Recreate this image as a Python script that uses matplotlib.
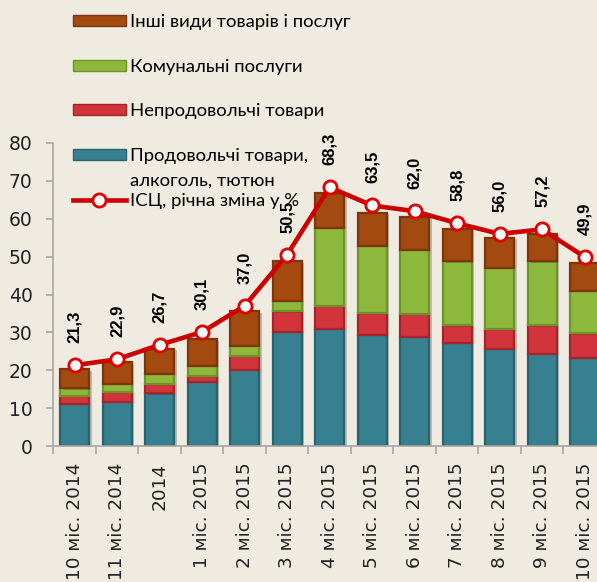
import numpy as np
import matplotlib
matplotlib.use("Agg")
import matplotlib.pyplot as plt
import matplotlib.patheffects as pe
from matplotlib.patches import Patch
from matplotlib.lines import Line2D

# Data
categories = ["10 міс. 2014", "11 міс. 2014", "2014", "1 міс. 2015", "2 міс. 2015",
              "3 міс. 2015", "4 міс. 2015", "5 міс. 2015", "6 міс. 2015", "7 міс. 2015",
              "8 міс. 2015", "9 міс. 2015", "10 міс. 2015"]
food = [11.1, 11.7, 13.9, 17.0, 20.1, 30.2, 30.9, 29.3, 28.8, 27.2, 25.6, 24.3, 23.3]
nonfood = [2.2, 2.6, 2.6, 1.6, 3.7, 5.4, 6.1, 5.8, 6.1, 4.7, 5.3, 7.6, 6.5]
utilities = [1.9, 2.2, 2.5, 2.6, 2.7, 2.8, 20.6, 17.7, 16.9, 16.9, 16.2, 16.9, 11.1]
other = [5.0, 5.6, 6.6, 7.0, 9.1, 10.4, 9.3, 8.7, 8.7, 8.5, 7.8, 7.2, 7.3]
cpi = [21.3, 22.9, 26.7, 30.1, 37.0, 50.5, 68.3, 63.5, 62.0, 58.8, 56.0, 57.2, 49.9]

series_labels = ["Продовольчі товари,", "Непродовольчі товари",
                 "Комунальні послуги", "Інші види товарів і послуг"]
line_label = "ІСЦ, річна зміна у %"

BG = "#EFEBE0"
colors = ["#37808F", "#D1343A", "#8DB83B", "#A24A10"]
edges = ["#2A6370", "#A52429", "#6F932B", "#7D360B"]
LINE_RED = "#CC0000"

fig = plt.figure(figsize=(5.97, 5.82), dpi=100, facecolor=BG)
W, H = 597, 582
ax = fig.add_axes([53.3 / W, (H - 446) / H, (606 - 53.3) / W, (446 - 143) / H])
ax.set_facecolor(BG)

x = np.arange(len(categories))
bottom = np.zeros(len(categories))
shadow = [pe.SimplePatchShadow(offset=(2, -1), alpha=0.25), pe.Normal()]
for vals, c, ec in zip([food, nonfood, utilities, other], colors, edges):
    ax.bar(x, vals, width=0.68, bottom=bottom, color=c, edgecolor=ec,
           linewidth=1.6, zorder=2, path_effects=shadow)
    bottom += np.array(vals)

ax.plot(x, cpi, color=LINE_RED, lw=3.3, marker="o", markersize=9.5,
        markerfacecolor="white", markeredgecolor="#E00000", markeredgewidth=2.0,
        zorder=4, solid_joinstyle="round")

for xi, v in zip(x, cpi):
    ax.annotate(f"{v:.1f}".replace(".", ","), (xi, v), xytext=(0, 22),
                textcoords="offset pixels", rotation=90, ha="center", va="bottom",
                fontsize=12, fontweight="bold", family="Liberation Sans",
                color="black", zorder=5)

ax.set_xlim(-0.5, len(categories) - 0.5)
ax.set_ylim(0, 80)
ax.set_yticks(range(0, 81, 10))
ax.set_xticks(x)
ax.set_xticklabels(categories, rotation=90, va="top", ha="center")
ax.set_xticks(np.arange(-0.5, len(categories), 1), minor=True)

for s in ["top", "right"]:
    ax.spines[s].set_visible(False)
for s in ["left", "bottom"]:
    ax.spines[s].set_color("#A6A6A6")
    ax.spines[s].set_linewidth(1.2)

ax.tick_params(axis="x", which="major", length=0, pad=12, labelsize=13.3,
               labelcolor="#222222")
ax.tick_params(axis="x", which="minor", length=6, color="#A6A6A6", width=1.2)
ax.tick_params(axis="y", length=5, color="#A6A6A6", width=1.2, pad=10,
               labelsize=13.5, labelcolor="#222222")

# Legend, one entry at a time to follow the original spacing
leg_font = dict(family="Lato", size=13.3)
handles = [
    (Patch(facecolor=colors[3], edgecolor=edges[3]), series_labels[3], 22),
    (Patch(facecolor=colors[2], edgecolor=edges[2]), series_labels[2], 67),
    (Patch(facecolor=colors[1], edgecolor=edges[1]), series_labels[1], 111),
    (Patch(facecolor=colors[0], edgecolor=edges[0]), series_labels[0], 156),
    (Line2D([], [], color=LINE_RED, lw=3.3, marker="o", markersize=9.5,
            markerfacecolor="white", markeredgecolor="#E00000",
            markeredgewidth=2.0), line_label, 201),
]
for h, lab, ypix in handles:
    lg = fig.legend(handles=[h], labels=[lab], loc="center left",
                    bbox_to_anchor=(73 / W, 1 - ypix / H), frameon=False,
                    borderpad=0, borderaxespad=0, handlelength=2.85,
                    handleheight=0.6, handletextpad=0.25, prop=leg_font)
    lg.set_zorder(6)
fig.text(130 / W, 1 - 181 / H, "алкоголь, тютюн", ha="left", va="center",
         family="Lato", fontsize=13.3, color="black")

fig.savefig("out.png", dpi=100, facecolor=BG)
